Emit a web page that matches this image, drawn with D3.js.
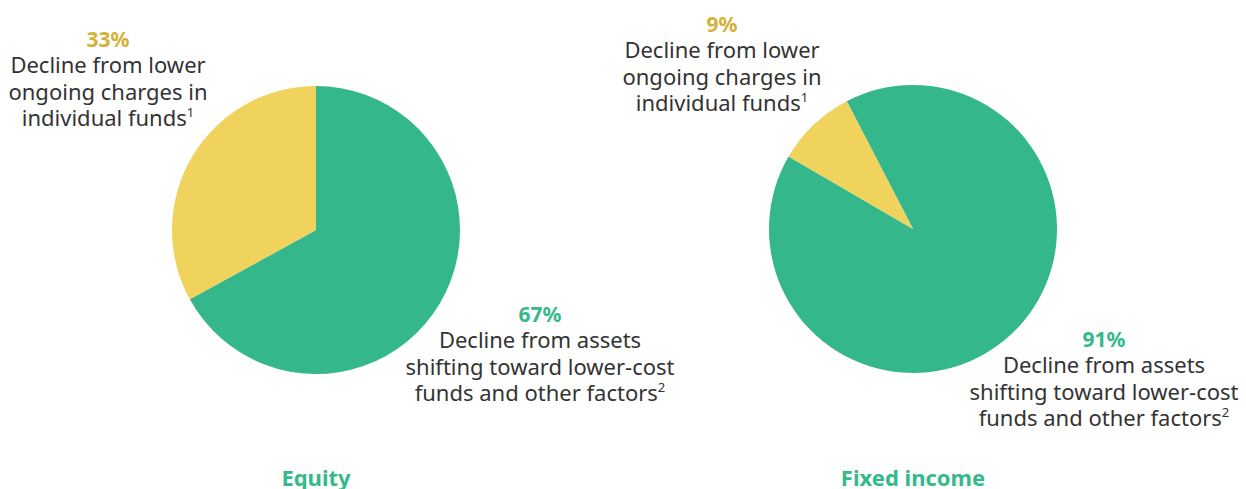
<!DOCTYPE html>
<html>
<head>
<meta charset="utf-8">
<script src="https://cdn.jsdelivr.net/npm/d3@7"></script>
<style>
  body { margin: 0; background: #fff; }
  svg text { font-family: "Noto Sans", "Open Sans", sans-serif; }
</style>
</head>
<body>
<div id="chart"></div>
<script>
// data
const categories = ["assets", "charges"];
const panelTitles = ["Equity", "Fixed income"];
const equityValues = [67, 33];
const fixedValues = [91, 9];
const labelLines = {
    assets: ["Decline from assets", "shifting toward lower-cost", "funds and other factors"],
    charges: ["Decline from lower", "ongoing charges in", "individual funds"]
};
const footnotes = { assets: "2", charges: "1" };

const colors = { assets: "#34b78a", charges: "#efd35c" };
const labelColors = { assets: "#35b88a", charges: "#d3b238" };

const width = 1246, height = 489;

const svg = d3.select("#chart").append("svg")
    .attr("width", width)
    .attr("height", height);

// layout for each pie (position, rotation, label anchor spots)
const panels = [
    {
        title: panelTitles[0], values: equityValues,
        cx: 316, cy: 230, r: 144, start: 0,
        labels: { charges: [108, 47], assets: [540, 322] }
    },
    {
        title: panelTitles[1], values: fixedValues,
        cx: 913, cy: 229, r: 144, start: -0.478,
        labels: { charges: [722, 32], assets: [1104, 347] }
    }
];

panels.forEach(p => {
    const data = categories.map((c, i) => ({ key: c, value: p.values[i] }));

    const pie = d3.pie()
        .value(d => d.value)
        .sort(null)
        .startAngle(p.start)
        .endAngle(p.start + 2 * Math.PI);

    const arc = d3.arc().innerRadius(0).outerRadius(p.r);

    const g = svg.append("g").attr("transform", `translate(${p.cx},${p.cy})`);

    g.selectAll("path")
        .data(pie(data))
        .join("path")
        .attr("d", arc)
        .attr("fill", d => colors[d.data.key]);

    // labels
    data.forEach(d => {
        const [lx, ly] = p.labels[d.key];
        const t = svg.append("g").attr("transform", `translate(${lx},${ly})`);

        t.append("text")
            .attr("text-anchor", "middle")
            .attr("font-size", 21)
            .attr("font-weight", 700)
            .attr("fill", labelColors[d.key])
            .text(d.value + "%");

        labelLines[d.key].forEach((line, i) => {
            const txt = t.append("text")
                .attr("text-anchor", "middle")
                .attr("y", 26 + i * 26.6)
                .attr("font-size", 22)
                .attr("fill", "#333")
                .text(line);
            if (i === labelLines[d.key].length - 1) {
                txt.append("tspan")
                    .attr("font-size", 13)
                    .attr("dy", -9)
                    .text(footnotes[d.key]);
            }
        });
    });

    // panel title
    svg.append("text")
        .attr("x", p.cx)
        .attr("y", 486)
        .attr("text-anchor", "middle")
        .attr("font-size", 22)
        .attr("font-weight", 700)
        .attr("fill", "#35b88a")
        .text(p.title);
});
</script>
</body>
</html>
